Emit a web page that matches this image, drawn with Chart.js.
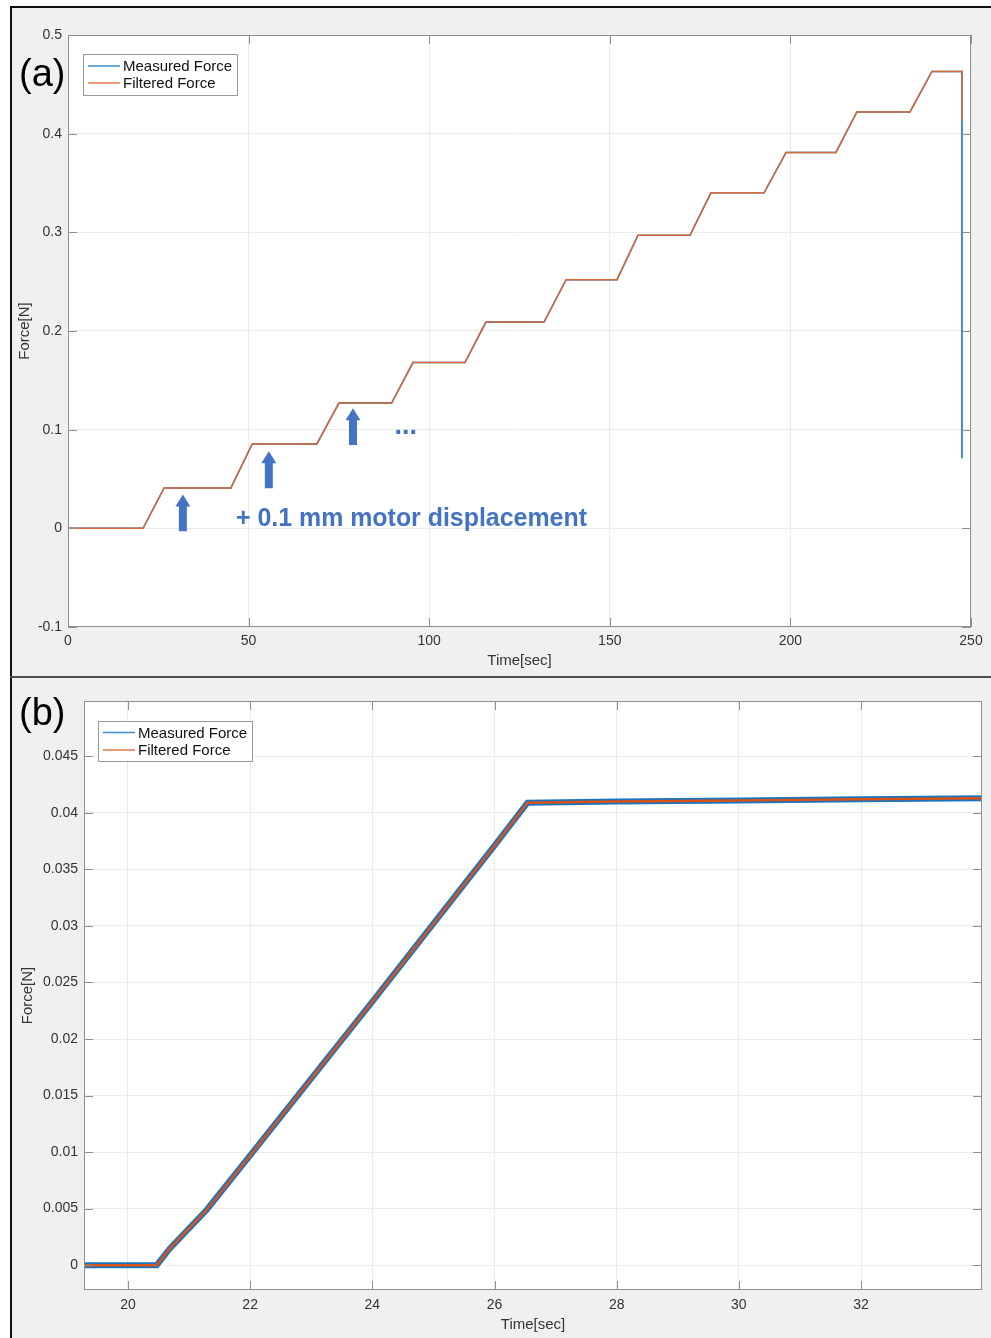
<!DOCTYPE html>
<html>
<head>
<meta charset="utf-8">
<script src="https://cdn.jsdelivr.net/npm/chart.js@4.4.0/dist/chart.umd.min.js"></script>
<style>
  html, body { margin: 0; padding: 0; background: #fff; }
  #fig { position: relative; width: 991px; height: 1338px; overflow: hidden; font-family: "Liberation Sans", Arial, sans-serif; }
  #panel { position: absolute; left: 10px; top: 6px; width: 981px; height: 1332px; background: #f0f0f0; border-left: 2px solid #111; border-top: 2px solid #111; box-sizing: border-box; }
  #sep { position: absolute; left: 10px; top: 676px; width: 981px; height: 2px; background: #4d4d4d; }
  .tag { position: absolute; left: 19px; font-size: 38px; line-height: 38px; color: #000; }
  .wrap { position: absolute; left: 12px; width: 979px; }
  #wrapA { top: 8px; height: 668px; }
  #wrapB { top: 679px; height: 659px; }
</style>
</head>
<body>
<div id="fig">
  <div id="panel"></div>
  <div id="sep"></div>
  <div class="wrap" id="wrapA"><canvas id="chartA" width="979" height="668"></canvas></div>
  <div class="wrap" id="wrapB"><canvas id="chartB" width="979" height="659"></canvas></div>
  <div class="tag" style="top:54px">(a)</div>
  <div class="tag" style="top:693px">(b)</div>
</div>
<script>
// (a) full staircase, 0-250 s
const timeA = [0, 20.8, 26.6, 45.1, 51.0, 68.9, 75.0, 89.6, 95.5, 109.9, 115.7, 131.8, 137.9, 152.0, 157.8, 172.2, 178.0, 192.7, 198.8, 212.6, 218.4, 233.1, 239.2, 247.5, 247.5]
const measuredA = [0, 0, 0.041, 0.041, 0.0855, 0.0855, 0.127, 0.127, 0.168, 0.168, 0.209, 0.209, 0.252, 0.252, 0.297, 0.297, 0.340, 0.340, 0.381, 0.381, 0.422, 0.422, 0.463, 0.463, 0.071]
const filteredA = [0, 0, 0.041, 0.041, 0.0855, 0.0855, 0.127, 0.127, 0.168, 0.168, 0.209, 0.209, 0.252, 0.252, 0.297, 0.297, 0.340, 0.340, 0.381, 0.381, 0.422, 0.422, 0.463, 0.463, 0.413]
const ticksAX = [0, 50, 100, 150, 200, 250]
const ticksAY = [-0.1, 0, 0.1, 0.2, 0.3, 0.4, 0.5]

// (b) zoom on the first step
const timeB = [19.28, 20.47, 20.69, 21.29, 22.0, 24.0, 26.0, 26.54, 28.0, 30.0, 32.0, 33.98]
const measuredB = [0, 0, 0.0015, 0.0049, 0.0097, 0.0233, 0.0371, 0.0409, 0.0410, 0.0411, 0.0412, 0.0413]
const filteredB = [0, 0, 0.0015, 0.0049, 0.0097, 0.0233, 0.0371, 0.0409, 0.0410, 0.0411, 0.0412, 0.0413]
const ticksBX = [20, 22, 24, 26, 28, 30, 32]
const ticksBY = [0, 0.005, 0.01, 0.015, 0.02, 0.025, 0.03, 0.035, 0.04, 0.045]

// annotation arrows in panel (a): time, bottom, tip
const arrowT = [31.8, 55.6, 78.9]
const arrowFrom = [-0.003, 0.0405, 0.0844]
const arrowTo = [0.0344, 0.078, 0.1218]

const BLUE = "#0072BD"
const ORANGE = "#D95319"
const NOTE = "#4472C4"

Chart.defaults.font.family = "'Liberation Sans', Arial, sans-serif"
Chart.defaults.color = "#333"
Chart.defaults.animation = false

const pts = (xs, ys) => xs.map((x, i) => ({ x: x, y: ys[i] }))

// white plot area, grey box and inward ticks like MATLAB
const matlabAxes = {
  id: "matlabAxes",
  beforeDraw(chart) {
    const { ctx, chartArea: a } = chart
    ctx.save()
    ctx.fillStyle = "#fff"
    ctx.fillRect(a.left, a.top, a.right - a.left, a.bottom - a.top)
    ctx.restore()
  },
  afterDraw(chart) {
    const { ctx, chartArea: a, scales } = chart
    ctx.save()
    ctx.strokeStyle = "#8f8f8f"
    ctx.lineWidth = 1
    ctx.strokeRect(a.left + 0.5, a.top + 0.5, a.right - a.left - 1, a.bottom - a.top - 1)
    ctx.beginPath()
    scales.x.ticks.forEach((t) => {
      const px = Math.round(scales.x.getPixelForValue(t.value)) + 0.5
      ctx.moveTo(px, a.bottom); ctx.lineTo(px, a.bottom - 9)
      ctx.moveTo(px, a.top); ctx.lineTo(px, a.top + 9)
    })
    scales.y.ticks.forEach((t) => {
      const py = Math.round(scales.y.getPixelForValue(t.value)) + 0.5
      ctx.moveTo(a.left, py); ctx.lineTo(a.left + 9, py)
      ctx.moveTo(a.right, py); ctx.lineTo(a.right - 9, py)
    })
    ctx.stroke()

    // legend box
    const o = chart.options.plugins.boxLegend
    const x0 = a.left + o.x, y0 = a.top + o.y
    ctx.fillStyle = "#fff"
    ctx.fillRect(x0, y0, o.w, o.h)
    ctx.strokeStyle = "#9a9a9a"
    ctx.strokeRect(x0 + 0.5, y0 + 0.5, o.w, o.h)
    ctx.font = "15px 'Liberation Sans', Arial, sans-serif"
    ctx.textBaseline = "middle"
    chart.data.datasets.forEach((ds, i) => {
      const y = y0 + o.rows[i]
      ctx.strokeStyle = ds.legendColor
      ctx.lineWidth = 1.5
      ctx.beginPath()
      ctx.moveTo(x0 + 5, y); ctx.lineTo(x0 + 37, y)
      ctx.stroke()
      ctx.fillStyle = "#111"
      ctx.fillText(ds.label, x0 + 40, y + 1)
    })
    ctx.restore()
  }
}

function drawArrow(ctx, x, yBottom, yTop) {
  const sw = 4, hw = 7.5, hh = 12
  ctx.beginPath()
  ctx.moveTo(x - sw, yBottom)
  ctx.lineTo(x - sw, yTop + hh)
  ctx.lineTo(x - hw, yTop + hh)
  ctx.lineTo(x, yTop)
  ctx.lineTo(x + hw, yTop + hh)
  ctx.lineTo(x + sw, yTop + hh)
  ctx.lineTo(x + sw, yBottom)
  ctx.closePath()
  ctx.fill()
}

const notes = {
  id: "notes",
  afterDatasetsDraw(chart) {
    const { ctx, scales } = chart
    const sx = scales.x, sy = scales.y
    ctx.save()
    ctx.fillStyle = NOTE
    arrowT.forEach((t, i) => {
      drawArrow(ctx, sx.getPixelForValue(t), sy.getPixelForValue(arrowFrom[i]), sy.getPixelForValue(arrowTo[i]))
    })
    ctx.font = "bold 25px 'Liberation Sans', Arial, sans-serif"
    ctx.textBaseline = "middle"
    ctx.fillText("+ 0.1 mm motor displacement", sx.getPixelForValue(46.5), sy.getPixelForValue(0.0095), 351)
    ctx.font = "bold 27px 'Liberation Sans', Arial, sans-serif"
    ctx.textBaseline = "alphabetic"
    ctx.fillText("...", sx.getPixelForValue(90.4), sy.getPixelForValue(0.096))
    ctx.restore()
  }
}

function axisX(min, max, ticks, height, pad, titlePad) {
  return {
    type: "linear", min: min, max: max,
    afterBuildTicks: (s) => { s.ticks = ticks.map((v) => ({ value: v })) },
    afterFit: (s) => { s.height = height },
    grid: { color: "#ebebeb", drawTicks: false },
    border: { display: false },
    ticks: { padding: pad, font: { size: 14 }, maxRotation: 0, autoSkip: false, callback: (v) => String(v) },
    title: { display: true, text: "Time[sec]", font: { size: 15 }, color: "#333", padding: { top: 0, bottom: titlePad } }
  }
}

function axisY(min, max, ticks, width, titlePad) {
  return {
    type: "linear", min: min, max: max,
    afterBuildTicks: (s) => { s.ticks = ticks.map((v) => ({ value: v })) },
    afterFit: (s) => { s.width = width },
    grid: { color: "#ebebeb", drawTicks: false },
    border: { display: false },
    ticks: { padding: 6, font: { size: 14 }, autoSkip: false, callback: (v) => String(v) },
    title: { display: true, text: "Force[N]", font: { size: 15 }, color: "#333", padding: { top: titlePad, bottom: 0 } }
  }
}

new Chart(document.getElementById("chartA"), {
  type: "line",
  data: {
    datasets: [
      { label: "Measured Force", data: pts(timeA, measuredA), borderColor: BLUE, legendColor: "#3d8fd1", borderWidth: 1.5, pointRadius: 0, order: 1, clip: 0 },
      { label: "Filtered Force", data: pts(timeA, filteredA), borderColor: "#dc6a36", legendColor: "#e0794a", borderWidth: 1.5, pointRadius: 0, order: 0, clip: 0 }
    ]
  },
  options: {
    responsive: false,
    layout: { padding: { left: 0, top: 27, right: 20, bottom: 0 } },
    scales: { x: axisX(0, 250, ticksAX, 49, 6, 6), y: axisY(-0.1, 0.5, ticksAY, 56, 4) },
    plugins: {
      legend: { display: false },
      tooltip: { enabled: false },
      boxLegend: { x: 15, y: 19, w: 154, h: 41, rows: [12, 29] }
    }
  },
  plugins: [matlabAxes, notes]
})

new Chart(document.getElementById("chartB"), {
  type: "line",
  data: {
    datasets: [
      { label: "Measured Force", data: pts(timeB, measuredB), borderColor: "#1a74c0", legendColor: "#3d8fd1", borderWidth: 6, pointRadius: 0, order: 1, clip: 0 },
      { label: "Filtered Force", data: pts(timeB, filteredB), borderColor: ORANGE, legendColor: "#e0794a", borderWidth: 2.5, pointRadius: 0, order: 0, clip: 0 }
    ]
  },
  options: {
    responsive: false,
    layout: { padding: { left: 0, top: 22, right: 9, bottom: 0 } },
    scales: { x: axisX(19.28, 33.98, ticksBX, 48, 7, 4), y: axisY(-0.0022, 0.0499, ticksBY, 72, 7) },
    plugins: {
      legend: { display: false },
      tooltip: { enabled: false },
      boxLegend: { x: 14, y: 20, w: 154, h: 40, rows: [11.5, 29] }
    }
  },
  plugins: [matlabAxes]
})
</script>
</body>
</html>
